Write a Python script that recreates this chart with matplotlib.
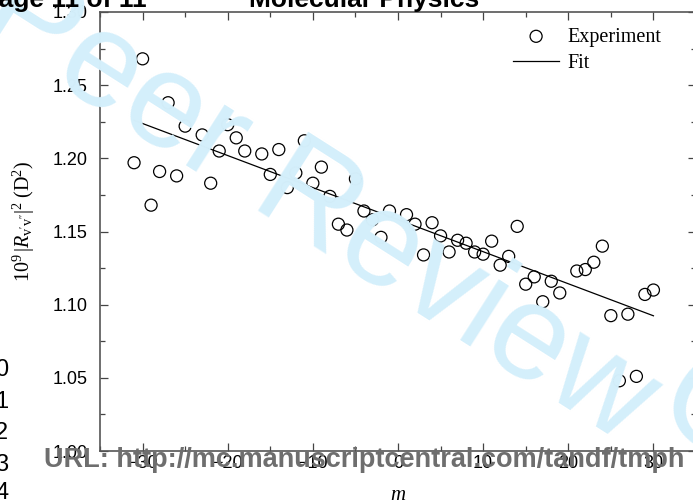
import matplotlib
matplotlib.use("Agg")
import matplotlib.pyplot as plt
import numpy as np
from matplotlib.ticker import MultipleLocator

# ---- data ----
m_exp = [-31, -30, -29, -28, -27, -26, -25, -23, -22, -21, -20, -19, -18, -16, -15, -14,
         -13, -12, -11, -10, -9, -8, -7, -6, -5, -4, -3, -2, -1,
         1, 2, 3, 4, 5, 6, 7, 8, 9, 10, 11, 12, 13, 14, 15, 16, 17, 18, 19,
         21, 22, 23, 24, 25, 26, 27, 28, 29, 30]
r_exp = [1.197, 1.268, 1.168, 1.191, 1.238, 1.188, 1.222, 1.216, 1.183, 1.205, 1.223, 1.214,
         1.205, 1.203, 1.189, 1.206, 1.180, 1.190, 1.212, 1.183, 1.194, 1.174, 1.155, 1.151,
         1.186, 1.164, 1.158, 1.146, 1.164,
         1.1615, 1.155, 1.134, 1.156, 1.147, 1.136, 1.144, 1.142, 1.136, 1.1345, 1.1434,
         1.127, 1.133, 1.1535, 1.114, 1.119, 1.102, 1.116, 1.108,
         1.123, 1.124, 1.129, 1.140, 1.0925, 1.048, 1.0935, 1.051, 1.107, 1.110]
fit_m_range = [-31, 30]
fit_intercept = 1.1581
fit_slope = -0.00219

x_ticks = [-30, -20, -10, 0, 10, 20, 30]
y_ticks = [1.00, 1.05, 1.10, 1.15, 1.20, 1.25, 1.30]

plt.rcParams['mathtext.fontset'] = 'custom'
plt.rcParams['mathtext.rm'] = 'Liberation Serif'
plt.rcParams['mathtext.it'] = 'Liberation Serif:italic'

W, H = 693, 503
fig = plt.figure(figsize=(W / 100, H / 100), dpi=100)

# watermark (behind)
wm = '#d4effb'
fig.text(318 / W, 1 - 208 / H, "Peer Review", fontsize=98, color=wm, family='Liberation Sans',
         rotation=-32.5, ha='center', va='center', zorder=0)
fig.text(714 / W, 1 - 418 / H, "O", fontsize=98, color=wm, family='Liberation Sans',
         rotation=-32.5, ha='center', va='center', zorder=0)

ax = fig.add_axes([100 / W, 1 - 451 / H, 596 / W, 439 / H])
ax.patch.set_alpha(0)

ax.scatter(m_exp, r_exp, s=75, facecolors='none', edgecolors='black', linewidths=0.9,
           label='Experiment', zorder=3)
fm = np.array(fit_m_range, dtype=float)
ax.plot(fm, fit_intercept + fit_slope * fm, color='black', lw=0.9, label='Fit', zorder=2)

ax.set_xlim(-35, 35)
ax.set_ylim(1.00, 1.30)
ax.set_xticks(x_ticks)
ax.set_yticks(y_ticks)
ax.set_yticklabels([f"{v:.2f}" for v in y_ticks])
ax.xaxis.set_minor_locator(MultipleLocator(5))
ax.yaxis.set_minor_locator(MultipleLocator(0.025))
ax.tick_params(which='both', direction='in', top=True, right=True, colors='#444444',
               labelcolor='black', labelsize=13)
ax.tick_params(axis='y', which='both', pad=9)
ax.tick_params(axis='x', which='both', pad=3)
ax.tick_params(which='major', length=6, width=0.9)
ax.tick_params(which='minor', length=3.5, width=0.9)
for lab in ax.get_xticklabels() + ax.get_yticklabels():
    lab.set_family('Liberation Sans')
for s in ax.spines.values():
    s.set_color('#555555')
    s.set_linewidth(1.2)

ax.set_xlabel(r'$m$', fontsize=15)
ax.xaxis.set_label_coords(0.5, (451 - 494) / 439, transform=ax.transAxes)
ax.xaxis.label.set_va('center')
ax.set_ylabel(r"$10^9\,|R_{\mathrm{v}'\mathrm{v}''}|^2\;(\mathrm{D}^2)$", fontsize=14.5)
ax.yaxis.set_label_coords((24 - 100) / 596, (451 - 221) / 439, transform=ax.transAxes)
ax.yaxis.label.set_va('center')

leg = ax.legend(loc='upper right', bbox_to_anchor=(0.972, 1.006), frameon=False,
                prop={'family': 'Liberation Serif', 'size': 14.5}, handlelength=2.3,
                handletextpad=0.4, labelspacing=0.35, borderpad=0.4)

# header and footer texts
fig.text(147 / W, 1 - 7 / H, "Page 11 of 11", fontsize=19, fontweight='bold',
         family='Liberation Sans', ha='right', va='baseline')
fig.text(364 / W, 1 - 7 / H, "Molecular Physics", fontsize=19, fontweight='bold',
         family='Liberation Sans', ha='center', va='baseline')
fig.text(364 / W, 1 - 460 / H, "URL: http://mc.manuscriptcentral.com/tandf/tmph", fontsize=19.5,
         fontweight='bold', family='Liberation Sans', color='#6e6e6e', ha='center', va='center',
         zorder=10)
for i, yy in enumerate([370, 402, 433, 465, 493]):
    fig.text(-5 / W, 1 - yy / H, str(i), fontsize=17, family='Liberation Sans',
             ha='left', va='center')

fig.savefig("out.png", dpi=100)
